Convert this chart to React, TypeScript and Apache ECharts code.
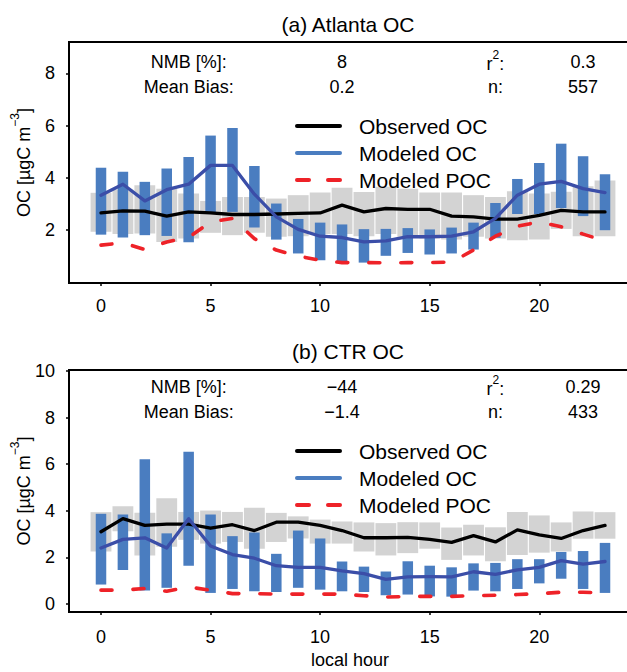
import React, { useEffect, useRef } from 'react';
import * as echarts from 'echarts';

const FONT = '"Liberation Sans", Arial, Helvetica, sans-serif';

const HOURS = [0, 1, 2, 3, 4, 5, 6, 7, 8, 9, 10, 11, 12, 13, 14, 15, 16, 17, 18, 19, 20, 21, 22, 23];
const X_TICKS = [0, 5, 10, 15, 20];
const A_Y_TICKS = [2, 4, 6, 8];
const B_Y_TICKS = [0, 2, 4, 6, 8, 10];

// Panel (a) Atlanta OC
const A_OBS_LO = [1.94, 1.85, 1.87, 1.55, 1.68, 1.9, 1.81, 1.9, 1.75, 1.77, 1.85, 1.85, 1.77, 1.85, 1.75, 1.68, 1.64, 1.75, 1.68, 1.62, 1.64, 2.05, 1.77, 1.77];
const A_OBS_HI = [3.43, 3.56, 3.72, 3.59, 3.4, 3.12, 3.27, 3.27, 3.21, 3.34, 3.44, 3.62, 3.46, 3.66, 3.59, 3.44, 3.44, 3.34, 3.27, 3.49, 3.4, 3.47, 3.68, 3.9];
const A_MOD_LO = [1.83, 1.72, 1.81, 1.78, 1.54, 2.66, 2.7, 2.1, 1.64, 1.11, 0.85, 0.79, 0.76, 1.02, 1.13, 1.07, 1.11, 1.26, 1.71, 2.62, 2.62, 2.85, 2.54, 2.0];
const A_MOD_HI = [4.39, 4.24, 3.85, 4.36, 4.8, 5.62, 5.91, 4.46, 3.02, 2.43, 2.29, 2.22, 2.04, 2.05, 2.08, 2.03, 2.1, 2.29, 3.04, 3.96, 4.57, 5.31, 4.83, 4.14];
const A_OBS = [2.66, 2.74, 2.73, 2.54, 2.7, 2.66, 2.6, 2.6, 2.62, 2.64, 2.66, 2.96, 2.7, 2.83, 2.8, 2.8, 2.54, 2.51, 2.42, 2.42, 2.57, 2.76, 2.7, 2.7];
const A_MOD = [3.34, 3.76, 3.12, 3.55, 3.76, 4.48, 4.48, 3.38, 2.51, 2.03, 1.77, 1.72, 1.55, 1.59, 1.75, 1.75, 1.77, 1.94, 2.45, 3.34, 3.76, 3.87, 3.59, 3.44];
const A_POC = [1.43, 1.52, 1.26, 1.55, 1.72, 2.32, 2.45, 1.68, 1.24, 1.01, 0.85, 0.76, 0.76, 0.75, 0.76, 0.76, 0.78, 1.24, 1.77, 2.15, 2.32, 2.13, 1.85, 1.59];
const A_STATS_LEFT = ['8', '0.2'];
const A_STATS_RIGHT = ['0.3', '557'];

// Panel (b) CTR OC
const B_OBS_LO = [2.25, 3.12, 2.08, 2.45, 2.75, 2.59, 2.66, 2.37, 2.66, 2.81, 2.59, 2.59, 2.25, 2.08, 2.18, 2.37, 1.89, 2.08, 1.83, 2.1, 2.2, 2.25, 2.8, 2.8];
const B_OBS_HI = [3.94, 4.2, 3.91, 4.54, 3.95, 4.01, 3.95, 4.13, 3.91, 3.76, 3.62, 3.54, 3.5, 3.47, 3.51, 3.5, 3.28, 3.4, 3.29, 3.95, 3.8, 3.5, 3.97, 3.94];
const B_MOD_LO = [0.83, 1.46, 0.57, 0.69, 1.64, 0.47, 0.64, 0.54, 0.51, 0.69, 0.61, 0.54, 0.51, 0.37, 0.4, 0.32, 0.31, 0.57, 0.54, 0.64, 0.88, 1.08, 0.64, 0.47];
const B_MOD_HI = [3.87, 3.84, 6.21, 3.03, 6.54, 3.84, 2.91, 3.07, 2.15, 3.15, 2.81, 1.82, 1.6, 1.39, 1.83, 1.64, 1.57, 1.74, 1.76, 1.92, 1.92, 2.23, 2.27, 2.62];
const B_OBS = [3.1, 3.66, 3.37, 3.43, 3.43, 3.25, 3.4, 3.15, 3.51, 3.51, 3.37, 3.15, 2.84, 2.84, 2.86, 2.77, 2.64, 2.93, 2.66, 3.18, 2.96, 2.81, 3.15, 3.37];
const B_MOD = [2.4, 2.77, 2.84, 2.4, 3.66, 2.49, 2.12, 1.96, 1.64, 1.57, 1.57, 1.42, 1.3, 1.05, 1.16, 1.17, 1.16, 1.38, 1.27, 1.46, 1.57, 1.86, 1.71, 1.82];
const B_POC = [0.59, 0.59, 0.66, 0.54, 0.72, 0.59, 0.44, 0.44, 0.42, 0.42, 0.42, 0.42, 0.35, 0.29, 0.32, 0.32, 0.32, 0.35, 0.37, 0.4, 0.44, 0.5, 0.5, 0.47];
const B_STATS_LEFT = ['\u221244', '\u22121.4'];
const B_STATS_RIGHT = ['0.29', '433'];

const STAT_LABELS = ['NMB [%]:', 'Mean Bias:'];
const LEGEND_LABELS = ['Observed OC', 'Modeled OC', 'Modeled POC'];
const TITLES = ['(a) Atlanta OC', '(b) CTR OC'];

const C_GRAY = '#d3d3d3';
const C_BAR = '#4a7dc0';
const C_MODLINE = '#3b4ea8';
const C_RED = '#ee2228';

const GRID_LEFT = 69;
const GRID_W = 568;
const X_MIN = -1.46;
const X_MAX = 24.46;

const PANELS = [
  { top: 42, height: 241, yMin: -0.02, yMax: 9.2, yTicks: A_Y_TICKS, lo: A_OBS_LO, hi: A_OBS_HI, mlo: A_MOD_LO, mhi: A_MOD_HI, obs: A_OBS, mod: A_MOD, poc: A_POC, sl: A_STATS_LEFT, sr: A_STATS_RIGHT, statY: [62, 87], legY: [126, 153, 180], titleY: 24, labelMargin: 14 },
  { top: 370, height: 242, yMin: -0.35, yMax: 10.05, yTicks: B_Y_TICKS, lo: B_OBS_LO, hi: B_OBS_HI, mlo: B_MOD_LO, mhi: B_MOD_HI, obs: B_OBS, mod: B_MOD, poc: B_POC, sl: B_STATS_LEFT, sr: B_STATS_RIGHT, statY: [387, 412], legY: [451, 478, 505], titleY: 351, labelMargin: 16 },
];

const xPx = (h: number) => GRID_LEFT + ((h - X_MIN) / (X_MAX - X_MIN)) * GRID_W;

const RICH = {
  a: { fontSize: 18, fontFamily: FONT, color: '#000', lineHeight: 24, verticalAlign: 'bottom' },
  s: { fontSize: 12, fontFamily: FONT, color: '#000', lineHeight: 12, verticalAlign: 'top' },
};

function txt(x: number, y: number, text: string, size: number, align = 'center') {
  return {
    type: 'text',
    x,
    y,
    z: 100,
    style: { text, fill: '#000', fontSize: size, fontFamily: FONT, align, verticalAlign: 'middle' },
  };
}

function boxRenderer(color: string, frac: number) {
  return (params: any, api: any) => {
    const h = api.value(0);
    const lo = api.value(1);
    const hi = api.value(2);
    const p1 = api.coord([h, hi]);
    const p2 = api.coord([h, lo]);
    const w = api.size([1, 0])[0] * frac;
    return {
      type: 'rect',
      shape: { x: p1[0] - w / 2, y: p1[1], width: w, height: p2[1] - p1[1] },
      style: { fill: color },
    };
  };
}

export default function App() {
  const ref = useRef<HTMLDivElement>(null);
  useEffect(() => {
    if (!ref.current) return;
    const chart = echarts.init(ref.current, undefined, { renderer: 'svg' });
    const series: any[] = [];
    const graphic: any[] = [];
    PANELS.forEach((p, i) => {
      series.push({
        type: 'custom', xAxisIndex: i, yAxisIndex: i, silent: true, z: 1,
        renderItem: boxRenderer(C_GRAY, 0.95),
        encode: { x: 0, y: [1, 2] },
        data: HOURS.map((h, k) => [h, p.lo[k], p.hi[k]]),
      });
      series.push({
        type: 'custom', xAxisIndex: i, yAxisIndex: i, silent: true, z: 2,
        renderItem: boxRenderer(C_BAR, 0.48),
        encode: { x: 0, y: [1, 2] },
        data: HOURS.map((h, k) => [h, p.mlo[k], p.mhi[k]]),
      });
      series.push({
        type: 'line', xAxisIndex: i, yAxisIndex: i, z: 3, showSymbol: false, symbol: 'none', silent: true,
        data: HOURS.map((h, k) => [h, p.obs[k]]),
        lineStyle: { color: '#000', width: 3.3, join: 'round', cap: 'round' },
        itemStyle: { color: '#000' },
      });
      series.push({
        type: 'line', xAxisIndex: i, yAxisIndex: i, z: 3, showSymbol: false, symbol: 'none', silent: true,
        data: HOURS.map((h, k) => [h, p.mod[k]]),
        lineStyle: { color: C_MODLINE, width: 3.3, join: 'round', cap: 'round' },
        itemStyle: { color: C_MODLINE },
      });
      series.push({
        type: 'line', xAxisIndex: i, yAxisIndex: i, z: 3, showSymbol: false, symbol: 'none', silent: true,
        data: HOURS.map((h, k) => [h, p.poc[k]]),
        lineStyle: { color: C_RED, width: 3.6, type: [11, 21], cap: 'round', join: 'round' },
        itemStyle: { color: C_RED },
      });

      // title
      graphic.push(txt(348, p.titleY, TITLES[i], 21));
      // stats
      STAT_LABELS.forEach((s, r) => {
        graphic.push(txt(xPx(4), p.statY[r], s, 18));
        graphic.push(txt(xPx(11), p.statY[r], p.sl[r], 18));
        graphic.push(txt(xPx(22), p.statY[r], p.sr[r], 18));
      });
      graphic.push({
        type: 'text', x: xPx(18), y: p.statY[0] - 1, z: 100,
        style: { text: '{a|r}{s|2}{a|:}', rich: RICH, align: 'center', verticalAlign: 'middle' },
      });
      graphic.push(txt(xPx(18), p.statY[1], 'n:', 18));
      // legend
      const lx1 = 297;
      const lx2 = 340;
      graphic.push({ type: 'line', z: 100, shape: { x1: lx1, y1: p.legY[0], x2: lx2, y2: p.legY[0] }, style: { stroke: '#000', lineWidth: 4, lineCap: 'round' } });
      graphic.push({ type: 'line', z: 100, shape: { x1: lx1, y1: p.legY[1], x2: lx2, y2: p.legY[1] }, style: { stroke: C_BAR, lineWidth: 4, lineCap: 'round' } });
      graphic.push({ type: 'line', z: 100, shape: { x1: lx1, y1: p.legY[2], x2: lx1 + 12, y2: p.legY[2] }, style: { stroke: C_RED, lineWidth: 4, lineCap: 'round' } });
      graphic.push({ type: 'line', z: 100, shape: { x1: lx2 - 12, y1: p.legY[2], x2: lx2, y2: p.legY[2] }, style: { stroke: C_RED, lineWidth: 4, lineCap: 'round' } });
      LEGEND_LABELS.forEach((l, r) => graphic.push(txt(359, p.legY[r], l, 21, 'left')));
      // y axis title
      graphic.push({
        type: 'text', x: 21, y: p.top + p.height / 2, rotation: Math.PI / 2, z: 100,
        style: { text: '{a|OC [\u00b5gC m}{s|\u22123}{a|]}', rich: RICH, align: 'center', verticalAlign: 'middle' },
      });
    });
    graphic.push(txt(350, 660, 'local hour', 18));

    const option: any = {
      animation: false,
      grid: PANELS.map((p) => ({
        left: GRID_LEFT, top: p.top, width: GRID_W, height: p.height,
        show: true, borderColor: '#000', borderWidth: 2, backgroundColor: 'transparent',
        containLabel: false, outerBoundsMode: 'none',
      })),
      xAxis: PANELS.map((p, i) => ({
        type: 'value', gridIndex: i, min: X_MIN, max: X_MAX,
        axisLine: { show: false, onZero: false },
        splitLine: { show: false },
        axisTick: { show: true, length: 3, customValues: X_TICKS, lineStyle: { color: '#000', width: 1.5 } },
        axisLabel: { customValues: X_TICKS, margin: p.labelMargin, fontSize: 18, color: '#000', fontFamily: FONT },
      })),
      yAxis: PANELS.map((p, i) => ({
        type: 'value', gridIndex: i, min: p.yMin, max: p.yMax,
        axisLine: { show: false, onZero: false },
        splitLine: { show: false },
        axisTick: { show: true, length: 3, customValues: p.yTicks, lineStyle: { color: '#000', width: 1.5 } },
        axisLabel: { customValues: p.yTicks, margin: 14, fontSize: 18, color: '#000', fontFamily: FONT },
      })),
      series,
      graphic,
    };
    chart.setOption(option);
    return () => chart.dispose();
  }, []);
  return <div ref={ref} style={{ position: 'fixed', left: 0, top: 0, width: 627, height: 672, background: '#fff' }} />;
}
